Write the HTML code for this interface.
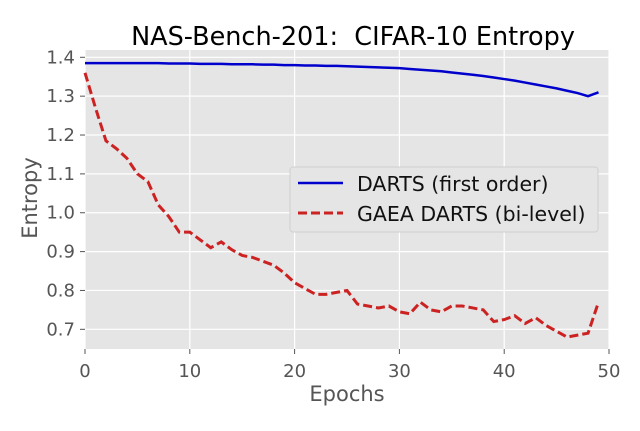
<!DOCTYPE html>
<html><head><meta charset="utf-8"><style>
body{margin:0;background:#fff}
svg text{font-family:"DejaVu Sans","Liberation Sans",sans-serif}
</style></head><body>
<svg id="chart" width="640" height="426" xmlns="http://www.w3.org/2000/svg">
<text x="353" y="45" font-size="25.5" text-anchor="middle" fill="#000">NAS-Bench-201:&#160; CIFAR-10 Entropy</text>
<rect x="85" y="50" width="524" height="299" fill="#e5e5e5"/>
<g id="grid"></g><g id="series"></g><g id="ticks"></g>
<text x="347" y="401" font-size="21" text-anchor="middle" fill="#555">Epochs</text>
<text transform="translate(37,198) rotate(-90)" font-size="21" text-anchor="middle" fill="#555">Entropy</text>
<g>
<rect x="290" y="167" width="308" height="65" rx="3" fill="#e5e5e5" stroke="#d0d0d0"/>
<line x1="298" y1="183" x2="343" y2="183" stroke="#0000cc" stroke-width="2.5"/>
<text x="357" y="191" font-size="20.5" fill="#111">DARTS (first order)</text>
<line x1="298" y1="213" x2="343" y2="213" stroke="#cc2222" stroke-width="3" stroke-dasharray="9,4"/>
<text x="357" y="221" font-size="20.5" fill="#111">GAEA DARTS (bi-level)</text>
</g>
</svg>
<script>
const epochs=[0,1,2,3,4,5,6,7,8,9,10,11,12,13,14,15,16,17,18,19,20,21,22,23,24,25,26,27,28,29,30,31,32,33,34,35,36,37,38,39,40,41,42,43,44,45,46,47,48,49];
const dartsValues=[1.385,1.385,1.385,1.385,1.385,1.385,1.385,1.385,1.384,1.384,1.384,1.383,1.383,1.383,1.382,1.382,1.382,1.381,1.381,1.380,1.380,1.379,1.379,1.378,1.378,1.377,1.376,1.375,1.374,1.373,1.372,1.370,1.368,1.366,1.364,1.361,1.358,1.355,1.352,1.348,1.344,1.340,1.335,1.330,1.325,1.320,1.314,1.308,1.300,1.310];
const gaeaValues=[1.36,1.27,1.185,1.165,1.14,1.10,1.08,1.02,0.99,0.95,0.95,0.93,0.91,0.925,0.905,0.89,0.885,0.875,0.865,0.845,0.82,0.805,0.79,0.79,0.795,0.80,0.765,0.76,0.755,0.76,0.745,0.74,0.77,0.75,0.745,0.76,0.76,0.755,0.75,0.72,0.725,0.735,0.715,0.73,0.71,0.695,0.68,0.685,0.69,0.77];
const xTicks=[0,10,20,30,40,50];
const yTicks=[0.7,0.8,0.9,1.0,1.1,1.2,1.3,1.4];
const xs=v=>85+v*(524/50);
const ys=v=>57.3+(1.4-v)*388.6;
const NS="http://www.w3.org/2000/svg";
function mk(tag,parent,attrs){const e=document.createElementNS(NS,tag);for(const k in attrs)e.setAttribute(k,attrs[k]);document.getElementById(parent).appendChild(e);return e;}
xTicks.forEach(t=>{
 const g=mk('line','grid',{x1:xs(t),x2:xs(t),y1:50,y2:349,stroke:'#fff','stroke-width':1.2});
 
 
 const tk=mk('line','ticks',{x1:xs(t),x2:xs(t),y1:349,y2:354,stroke:'#555'});
 
 
 const l=mk('text','ticks',{x:xs(t),y:377,'font-size':18,'text-anchor':'middle',fill:'#555'});
 l.textContent=t;
 
 
});
yTicks.forEach(t=>{
 const g=mk('line','grid',{x1:85,x2:609,y1:ys(t),y2:ys(t),stroke:'#fff','stroke-width':1.2});
 
 
 const tk=mk('line','ticks',{x1:80,x2:85,y1:ys(t),y2:ys(t),stroke:'#555'});
 
 
 const l=mk('text','ticks',{x:75,y:ys(t)+6,'font-size':18,'text-anchor':'end',fill:'#555'});
 l.textContent=t.toFixed(1);
 
 
});
const p1=mk('polyline','series',{points:epochs.map((e,i)=>xs(e)+','+ys(dartsValues[i])).join(' '),fill:'none',stroke:'#0000cc','stroke-width':2.5});


const p2=mk('polyline','series',{points:epochs.map((e,i)=>xs(e)+','+ys(gaeaValues[i])).join(' '),fill:'none',stroke:'#cc2222','stroke-width':3,'stroke-dasharray':'9,4'});


</script>
</body></html>
